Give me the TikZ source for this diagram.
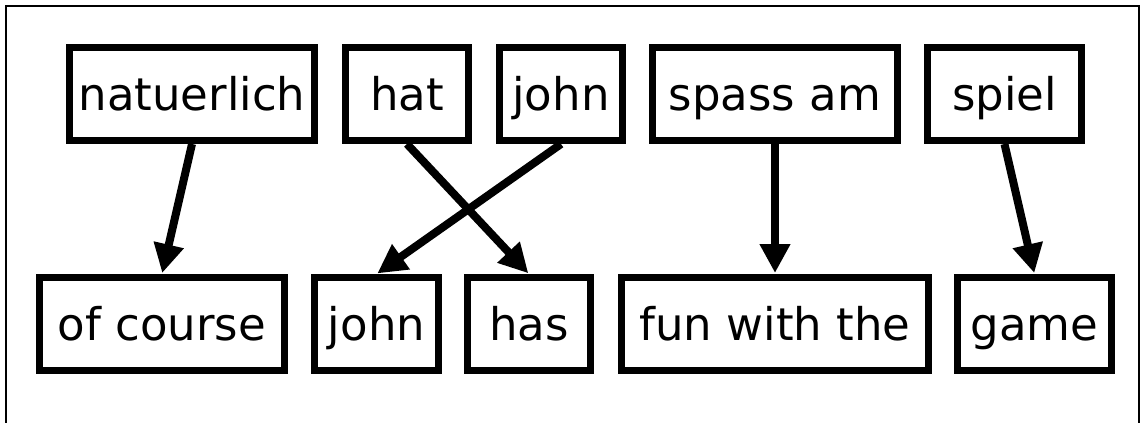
\documentclass[tikz,border=0pt]{standalone}
\usepackage{fontspec}
\setmainfont{DejaVu Sans}
\usetikzlibrary{arrows.meta,positioning}
\tikzset{
  wbox/.style={draw=black,fill=white,line width=7pt,inner sep=0pt,minimum height=93pt,text height=34pt,text depth=2pt},
  warr/.style={-{Triangle[length=29pt,width=29pt]},line width=8pt,draw=black,shorten >=1pt},
  wframe/.style={line width=2pt,draw=black}
}
\begin{document}
\begin{tikzpicture}[x=1pt,y=-1pt,font=\fontsize{45}{50}\selectfont]
  \useasboundingbox (0,0) rectangle (1141,423);
  % frame
  \coordinate (fa) at (6,440);
  \coordinate (fb) at (6,6);
  \coordinate (fc) at (1139,6);
  \coordinate (fd) at (1139,440);
  \draw[wframe] (fa) -- (fb) -- (fc) -- (fd);
  % german
  \node[wbox,minimum width=245pt] (nat) at (192,94) {natuerlich};
  \node[wbox,minimum width=123pt] (hat) at (407,94) {hat};
  \node[wbox,minimum width=123pt] (johnT) at (561,94) {john};
  \node[wbox,minimum width=245pt] (spass) at (775,94) {spass am};
  \node[wbox,minimum width=154pt] (spiel) at (1004.5,94) {spiel};
  % english
  \node[wbox,minimum width=245pt] (course) at (162,324) {of course};
  \node[wbox,minimum width=124pt] (johnB) at (376.5,324) {john};
  \node[wbox,minimum width=123pt] (has) at (529,324) {has};
  \node[wbox,minimum width=307pt] (fun) at (775,324) {fun with the};
  \node[wbox,minimum width=154pt] (game) at (1034.5,324) {game};
  % alignment
  \draw[warr] (nat.south) -- (course.north);
  \draw[warr] (hat.south) -- (has.north);
  \draw[warr] (johnT.south) -- (johnB.north);
  \draw[warr] (spass.south) -- (fun.north);
  \draw[warr] (spiel.south) -- (game.north);
\end{tikzpicture}
\end{document}
